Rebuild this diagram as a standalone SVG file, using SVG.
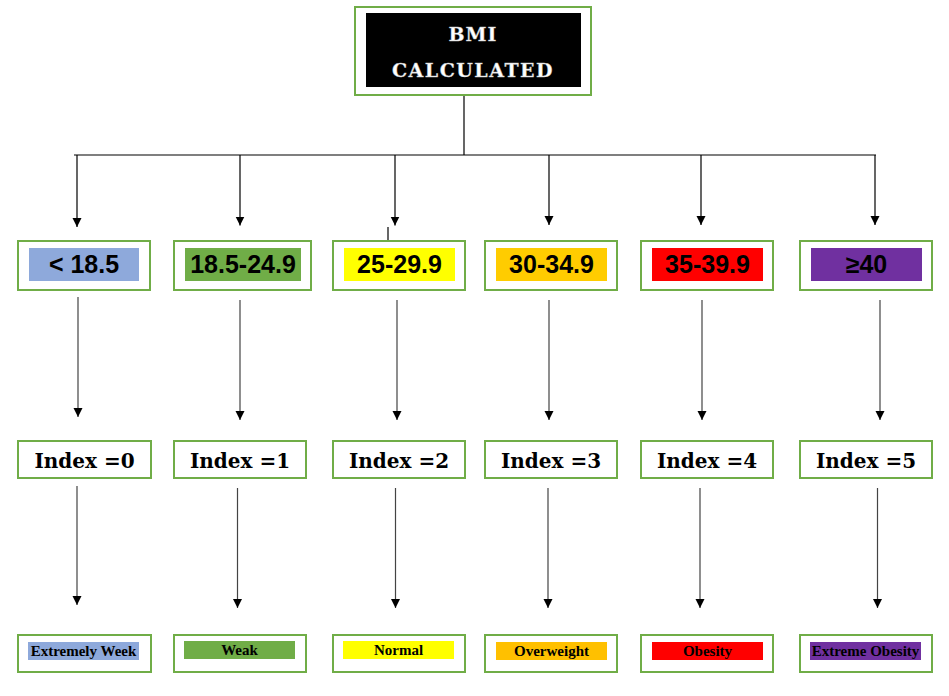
<svg xmlns="http://www.w3.org/2000/svg" width="949" height="696" viewBox="0 0 949 696">
<defs>
<marker id="arr" viewBox="0 0 10 10" refX="10" refY="5" markerWidth="9" markerHeight="10" markerUnits="userSpaceOnUse" orient="auto">
<path d="M0,0 L10,5 L0,10 z" fill="#000"/>
</marker>
</defs>
<style>
.box{fill:#fff;stroke:#70AD47;stroke-width:2}
.rng{font-family:"Liberation Sans",Arial,sans-serif;font-weight:bold;font-size:25px;fill:#000;text-anchor:middle}
.idx{font-family:"DejaVu Serif",serif;font-weight:bold;font-size:20px;fill:#000;text-anchor:middle}
.lbl{font-family:"Liberation Serif","Times New Roman",serif;font-weight:bold;font-size:15px;fill:#000;text-anchor:middle}
.ttl{font-family:"DejaVu Serif",serif;font-weight:bold;font-size:19px;fill:#fff;stroke:#bbb;stroke-width:0.4;text-anchor:middle}
.c1{fill:none;stroke:#000;stroke-width:1.2}
.c2{fill:none;stroke:#444;stroke-width:1.2}
</style>
<rect width="949" height="696" fill="#fff"/>

<g id="connectors">
<polyline class="c1" points="464,87 464,155"/>
<line class="c1" x1="74" y1="155" x2="876" y2="155"/>
<line class="c1" x1="77" y1="155" x2="77" y2="227" marker-end="url(#arr)"/>
<line class="c1" x1="240" y1="155" x2="240" y2="225.5" marker-end="url(#arr)"/>
<line class="c1" x1="395" y1="155" x2="395" y2="225.5" marker-end="url(#arr)"/>
<line class="c1" x1="549" y1="155" x2="549" y2="225" marker-end="url(#arr)"/>
<line class="c1" x1="701" y1="155" x2="701" y2="225" marker-end="url(#arr)"/>
<line class="c1" x1="875" y1="155" x2="875" y2="225" marker-end="url(#arr)"/>
<line class="c1" x1="388" y1="227" x2="388" y2="247"/>

<line class="c2" x1="78" y1="297" x2="78" y2="417" marker-end="url(#arr)"/>
<line class="c2" x1="240" y1="300" x2="240" y2="420" marker-end="url(#arr)"/>
<line class="c2" x1="397" y1="300" x2="397" y2="420" marker-end="url(#arr)"/>
<line class="c2" x1="549" y1="300" x2="549" y2="420" marker-end="url(#arr)"/>
<line class="c2" x1="702" y1="300" x2="702" y2="420" marker-end="url(#arr)"/>
<line class="c2" x1="880" y1="300" x2="880" y2="420" marker-end="url(#arr)"/>

<line class="c2" x1="77" y1="486" x2="77" y2="605" marker-end="url(#arr)"/>
<line class="c2" x1="237.5" y1="488" x2="237.5" y2="608" marker-end="url(#arr)"/>
<line class="c2" x1="395.5" y1="488" x2="395.5" y2="608" marker-end="url(#arr)"/>
<line class="c2" x1="548" y1="488" x2="548" y2="608" marker-end="url(#arr)"/>
<line class="c2" x1="700" y1="488" x2="700" y2="608" marker-end="url(#arr)"/>
<line class="c2" x1="877.5" y1="488" x2="877.5" y2="608" marker-end="url(#arr)"/>
</g>

<g id="bmi">
<rect class="box" x="355" y="7" width="236" height="88"/>
<rect x="366" y="13" width="215" height="74" fill="#000"/>
<text class="ttl" x="473" y="41" letter-spacing="1">BMI</text>
<text class="ttl" x="473" y="77" letter-spacing="1.5">CALCULATED</text>
</g>

<g id="r0">
<rect class="box" x="18" y="241" width="132" height="49"/>
<rect x="29" y="248" width="110" height="33" fill="#8EA9DB"/>
<text class="rng" x="84" y="273">&lt; 18.5</text>
</g>
<g id="r1">
<rect class="box" x="174" y="241" width="137" height="49"/>
<rect x="185" y="248" width="116" height="33" fill="#70AD47"/>
<text class="rng" x="243" y="273">18.5-24.9</text>
</g>
<g id="r2">
<rect class="box" x="333" y="241" width="132" height="49"/>
<rect x="344" y="248" width="111" height="33" fill="#FFFF00"/>
<text class="rng" x="399.5" y="273">25-29.9</text>
</g>
<g id="r3">
<rect class="box" x="485" y="241" width="132" height="49"/>
<rect x="496" y="248" width="111" height="33" fill="#FFCC00"/>
<text class="rng" x="551.5" y="273">30-34.9</text>
</g>
<g id="r4">
<rect class="box" x="641" y="241" width="132" height="49"/>
<rect x="652" y="248" width="111" height="33" fill="#FF0000"/>
<text class="rng" x="707.5" y="273">35-39.9</text>
</g>
<g id="r5">
<rect class="box" x="800" y="241" width="132" height="49"/>
<rect x="811" y="248" width="111" height="33" fill="#7030A0"/>
<text class="rng" x="866.5" y="273">≥40</text>
</g>

<g id="i0"><rect class="box" x="18" y="441" width="133" height="37"/><text class="idx" x="84.5" y="468">Index =0</text></g>
<g id="i1"><rect class="box" x="174" y="441" width="132" height="37"/><text class="idx" x="240" y="468">Index =1</text></g>
<g id="i2"><rect class="box" x="333" y="441" width="132" height="37"/><text class="idx" x="399" y="468">Index =2</text></g>
<g id="i3"><rect class="box" x="485" y="441" width="132" height="37"/><text class="idx" x="551" y="468">Index =3</text></g>
<g id="i4"><rect class="box" x="641" y="441" width="132" height="37"/><text class="idx" x="707" y="468">Index =4</text></g>
<g id="i5"><rect class="box" x="800" y="441" width="132" height="37"/><text class="idx" x="866" y="468">Index =5</text></g>

<g id="l0"><rect class="box" x="18" y="635" width="133" height="37"/><rect x="28" y="642" width="111" height="18" fill="#8EA9DB"/><text class="lbl" x="83.5" y="655.5">Extremely Week</text></g>
<g id="l1"><rect class="box" x="174" y="635" width="132" height="37"/><rect x="184" y="641" width="111" height="18" fill="#70AD47"/><text class="lbl" x="239.5" y="654.5">Weak</text></g>
<g id="l2"><rect class="box" x="333" y="635" width="132" height="37"/><rect x="343" y="641" width="111" height="18" fill="#FFFF00"/><text class="lbl" x="398.5" y="654.5">Normal</text></g>
<g id="l3"><rect class="box" x="485" y="635" width="132" height="37"/><rect x="496" y="642" width="111" height="18" fill="#FFC000"/><text class="lbl" x="551.5" y="655.5">Overweight</text></g>
<g id="l4"><rect class="box" x="641" y="635" width="132" height="37"/><rect x="652" y="642" width="111" height="18" fill="#FF0000"/><text class="lbl" x="707.5" y="655.5">Obesity</text></g>
<g id="l5"><rect class="box" x="800" y="635" width="132" height="37"/><rect x="810" y="642" width="111" height="18" fill="#7030A0"/><text class="lbl" x="865.5" y="655.5">Extreme Obesity</text></g>
</svg>
